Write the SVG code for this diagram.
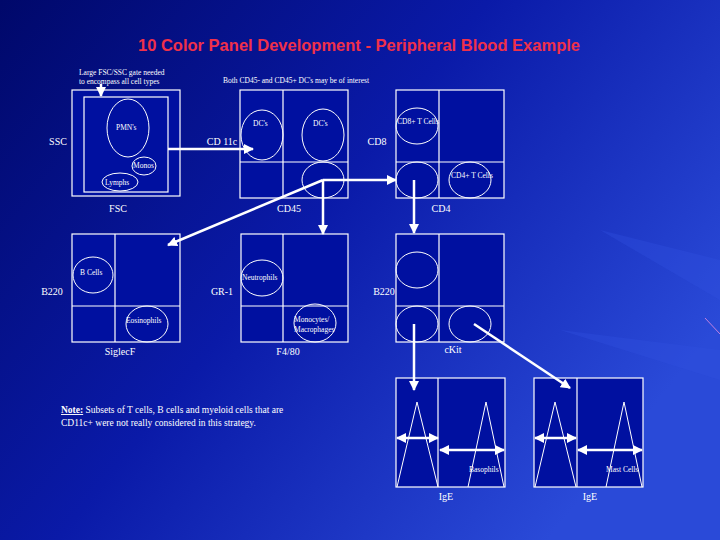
<svg xmlns="http://www.w3.org/2000/svg" width="720" height="540" viewBox="0 0 720 540">
<defs>
<linearGradient id="bg" x1="0" y1="0" x2="1" y2="0.6">
<stop offset="0" stop-color="#00086a"/><stop offset="0.5" stop-color="#0a1aa8"/><stop offset="1" stop-color="#2a4ad8"/>
</linearGradient>
<marker id="ar" viewBox="0 0 10 10" refX="9" refY="5" markerWidth="4" markerHeight="4" orient="auto-start-reverse"><path d="M0,0L10,5L0,10z" fill="#fff"/></marker>
<style>
.p{fill:#0010a0;stroke:#fff;stroke-width:1.2}
.l{stroke:#fff;stroke-width:1.2;fill:none}
.e{fill:none;stroke:#fff;stroke-width:1}
.c{stroke:#fff;stroke-width:2.5;fill:none;marker-end:url(#ar)}
.d{stroke:#fff;stroke-width:2.5;fill:none;marker-end:url(#ar);marker-start:url(#ar)}
text{font-family:"Liberation Serif",serif;fill:#fff;font-size:10px}
.s{font-size:7.5px}
.ax{font-size:10px;text-anchor:middle}
</style>
</defs>
<rect width="720" height="540" fill="url(#bg)"/>
<path d="M720,300L600,230L720,260z M720,380L560,330L720,350z" fill="#3050e0" opacity="0.35"/>
<line x1="705" y1="318" x2="720" y2="334" stroke="#c080e0" stroke-width="1"/>
<text x="359" y="51" text-anchor="middle" style="font-family:'Liberation Sans',sans-serif;font-weight:bold;font-size:16.5px;fill:#f0304a">10 Color Panel Development - Peripheral Blood Example</text>
<g id="plot1">
<rect class="p" x="72" y="90" width="108" height="106"/>
<rect class="l" x="84" y="97" width="84" height="95"/>
<ellipse class="e" cx="128" cy="128" rx="21" ry="29"/><text class="s" x="116" y="130">PMN's</text>
<ellipse class="e" cx="144" cy="166" rx="12" ry="9"/><text class="s" x="133" y="168">Monos</text>
<ellipse class="e" cx="120" cy="182" rx="18" ry="9"/><text class="s" x="105" y="185">Lymphs</text>
<text class="s" x="79" y="75">Large FSC/SSC gate needed</text><text class="s" x="79" y="84">to encompass all cell types</text>
<text class="ax" x="58" y="145">SSC</text><text class="ax" x="118" y="212">FSC</text>
</g>
<g id="plot2">
<rect class="p" x="240" y="90" width="108" height="108"/>
<path class="l" d="M283,90V198M240,162H348"/>
<ellipse class="e" cx="262" cy="135" rx="21" ry="25"/><text class="s" x="253" y="126">DC's</text>
<ellipse class="e" cx="323" cy="135" rx="21" ry="26"/><text class="s" x="313" y="126">DC's</text>
<ellipse class="e" cx="323" cy="180" rx="21" ry="18"/>
<text class="s" x="223" y="83">Both CD45- and CD45+ DC's may be of interest</text>
<text class="ax" x="222" y="145">CD 11c</text><text class="ax" x="289" y="212">CD45</text>
</g>
<g id="plot3">
<rect class="p" x="396" y="90" width="108" height="108"/>
<path class="l" d="M439,90V198M396,162H504"/>
<ellipse class="e" cx="417" cy="126" rx="21" ry="18"/><text class="s" x="397" y="124">CD8+ T Cells</text>
<ellipse class="e" cx="417" cy="180" rx="21" ry="18"/>
<ellipse class="e" cx="470" cy="180" rx="21" ry="18"/><text class="s" x="451" y="178">CD4+ T Cells</text>
<text class="ax" x="377" y="145">CD8</text><text class="ax" x="441" y="212">CD4</text>
</g>
<g id="plot4">
<rect class="p" x="72" y="234" width="108" height="108"/>
<path class="l" d="M115,234V342M72,306H180"/>
<ellipse class="e" cx="93" cy="275" rx="20" ry="18"/><text class="s" x="80" y="275">B Cells</text>
<ellipse class="e" cx="147" cy="324" rx="21" ry="18"/><text class="s" x="126" y="323">Eosinophils</text>
<text class="ax" x="52" y="295">B220</text><text class="ax" x="120" y="355">SiglecF</text>
</g>
<g id="plot5">
<rect class="p" x="241" y="234" width="107" height="108"/>
<path class="l" d="M283,234V342M241,306H348"/>
<ellipse class="e" cx="262" cy="278" rx="21" ry="18"/><text class="s" x="242" y="280">Neutrophils</text>
<ellipse class="e" cx="315" cy="323" rx="21" ry="19"/><text class="s" x="294" y="322">Monocytes/</text><text class="s" x="294" y="332">Macrophages</text>
<text class="ax" x="222" y="295">GR-1</text><text class="ax" x="288" y="355">F4/80</text>
</g>
<g id="plot6">
<rect class="p" x="396" y="234" width="108" height="108"/>
<path class="l" d="M439,234V342M396,306H504"/>
<ellipse class="e" cx="417" cy="270" rx="21" ry="18"/>
<ellipse class="e" cx="417" cy="324" rx="21" ry="18"/>
<ellipse class="e" cx="470" cy="324" rx="21" ry="18"/>
<text class="ax" x="384" y="295">B220</text><text class="ax" x="453" y="353">cKit</text>
</g>
<g id="hist1">
<rect class="p" x="396" y="378" width="109" height="109"/>
<path class="l" d="M438,378V487"/>
<path class="e" d="M397,487L417,402L438,487M468,487L486,402L504,487"/>
<text class="s" x="469" y="472">Basophils</text>
<text class="ax" x="446" y="500">IgE</text>
</g>
<g id="hist2">
<rect class="p" x="534" y="378" width="109" height="109"/>
<path class="l" d="M577,378V487"/>
<path class="e" d="M535,487L555,402L576,487M606,487L624,402L642,487"/>
<text class="s" x="606" y="472">Mast Cells</text>
<text class="ax" x="590" y="500">IgE</text>
</g>
<text x="61" y="413" style="font-size:9.5px"><tspan style="font-weight:bold;text-decoration:underline">Note:</tspan> Subsets of T cells, B cells and myeloid cells that are</text>
<text x="61" y="426" style="font-size:9.5px">CD11c+ were not really considered in this strategy.</text>
<g id="connectors">
<path class="c" d="M101,84V96"/>
<path class="c" d="M168,149H253"/>
<path class="c" d="M323,180H396"/>
<path class="c" d="M323,180L168,245"/>
<path class="c" d="M323,180V234"/>
<path class="c" d="M414,180V233"/>
<path class="c" d="M414,324V390"/>
<path class="c" d="M474,324L570,388"/>
<path class="d" d="M397,438H438"/>
<path class="d" d="M440,450H504"/>
<path class="d" d="M535,438H576"/>
<path class="d" d="M578,450H642"/>
</g>
</svg>
